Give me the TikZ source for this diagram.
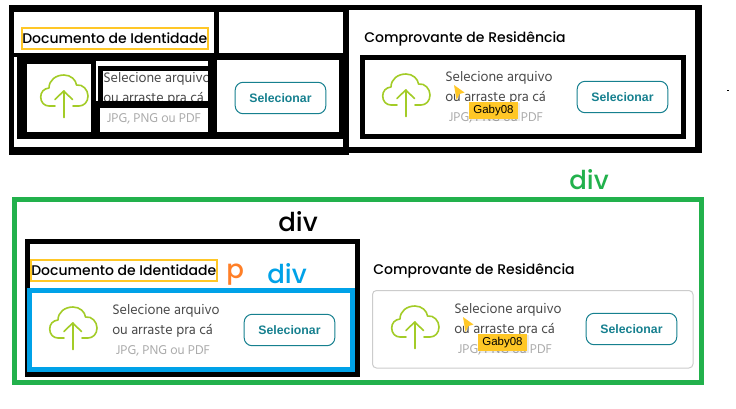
\documentclass[tikz,border=0pt]{standalone}
\usepackage{fontspec}
\setmainfont{Hind Madurai}
\newfontfamily\titlef{Poppins Medium}
\newfontfamily\labelf{Poppins Medium}
\newfontfamily\btnf{Liberation Sans}
\newfontfamily\tagf{Liberation Sans}
\definecolor{cloudgreen}{HTML}{A3CC27}
\definecolor{teal}{HTML}{16808F}
\definecolor{yel}{HTML}{FFC726}
\definecolor{grn}{HTML}{22B14C}
\definecolor{blu}{HTML}{00A2E8}
\definecolor{org}{HTML}{FF7F27}
\definecolor{bodytxt}{HTML}{4A4A4A}
\definecolor{hinttxt}{HTML}{ABABAB}
\tikzset{
  x=0.75pt,y=-0.75pt,
  titletxt/.style={inner sep=0,anchor=base west,text=black,font=\titlef\fontsize{10.5}{12}\selectfont},
  bodyline/.style={inner sep=0,anchor=base west,text=bodytxt,font=\fontsize{10.6}{12}\selectfont},
  hint/.style={inner sep=0,anchor=base west,text=hinttxt,font=\fontsize{9.8}{11}\selectfont},
  btn/.style={draw=teal,line width=0.75pt,rounded corners=6pt,minimum width=68pt,minimum height=23.6pt,inner sep=0,text=teal,font=\btnf\bfseries\fontsize{9.2}{10}\selectfont},
  cloudline/.style={draw=cloudgreen,line width=1.2pt,line cap=round,line join=round},
  tagbox/.style={fill=yel,text=black,inner sep=0,minimum width=36.8pt,minimum height=12.8pt,font=\tagf\fontsize{8.6}{10}\selectfont},
  blk/.style={fill=black,draw=none},
  bigdiv/.style={inner sep=0,anchor=base west,font=\labelf\fontsize{19.5}{22}\selectfont},
  yframe/.style={draw=yel,line width=1.5pt},
}
\newcommand{\uploadcard}[3]{%
  \begin{scope}[shift={(#1,#2)}]
    \draw[cloudline] (397,105) -- (391,105) .. controls (386,105) and (382.7,101) .. (382.7,96) .. controls (382.7,91) and (386,87.5) .. (391,87) .. controls (391,79) and (398,74) .. (406,74) .. controls (413,74) and (418,79) .. (418.5,84) .. controls (425,83) and (430,89) .. (430,95) .. controls (430,101) and (426,105) .. (421,105) -- (415,105);
    \draw[cloudline] (405.7,90) -- (405.7,116.5);
    \draw[cloudline] (397,98.5) -- (405.7,90) -- (414.5,98.5);
    \node[bodyline] (#3a) at (445,81.5) {Selecione arquivo};
    \node[bodyline] (#3b) at (445,101.5) {ou arraste pra cá};
    \node[hint] (#3c) at (448.5,121) {JPG, PNG ou PDF};
    \node[btn] (#3d) at (622.5,97) {Selecionar};
  \end{scope}}
\newcommand{\gabytag}[3]{%
  \begin{scope}[shift={(#1,#2)}]
    \fill[black,opacity=0.08] (470,103) rectangle (520,121);
    \node[tagbox] (#3) at (493.5,110.5) {Gaby08};
    \fill[yel] (454,85) -- (464.5,92.5) -- (459.5,94) -- (456.5,100) -- cycle;
  \end{scope}}
\begin{document}
\begin{tikzpicture}
\useasboundingbox (0,0) rectangle (736,408);
\fill[white] (0,0) rectangle (736,408);

% ---------- top part ----------
\uploadcard{-342}{1}{ta}
\uploadcard{0}{0}{tb}
\gabytag{0}{0}{tg}
\node[titletxt] (t1) at (22,43) {Documento de Identidade};
\node[titletxt] (t2) at (364,42) {Comprovante de Residência};
\draw[yframe] (22,28) rectangle (208,49);

% black boxes painted over the left card
\fill[blk] (9,5) rectangle (349,12);
\fill[blk] (9,5) rectangle (14,155);
\fill[blk] (9,147) rectangle (349,155);
\fill[blk] (343,10) rectangle (349,155);
\fill[blk] (214,12) rectangle (219,53);
\fill[blk] (14,53) rectangle (343,57);
\fill[blk] (17,57) rectangle (343,60);
\fill[blk] (17,57) rectangle (27,139);
\fill[blk] (17,132) rectangle (343,139);
\fill[blk] (339,53) rectangle (343,139);
\fill[blk] (27,60) rectangle (91,64);
\fill[blk] (91,60) rectangle (96,132);
\fill[blk] (96,60) rectangle (208,61);
\fill[blk] (98,66) rectangle (103,103);
\fill[blk] (98,66) rectangle (208,71);
\fill[blk] (96,101) rectangle (208,108);
\fill[blk] (91,108) rectangle (100,132);
\fill[blk] (208,60) rectangle (217,139);
% right frame
\fill[blk] (343,5) rectangle (702,10);
\fill[blk] (695,5) rectangle (702,153);
\fill[blk] (343,147) rectangle (702,153);
\draw[black,line width=3.75pt] (362.5,57.5) rectangle (683.5,136.5);
\fill[black] (727,89.5) rectangle (728.5,91);

% ---------- bottom part ----------
\draw[grn,line width=3.75pt] (14.5,199.5) rectangle (701.5,382.5);
\draw[black,line width=3.75pt] (27.5,241.5) rectangle (357.5,374);
\draw[blu,line width=3.75pt] (29.5,290.5) rectangle (352.5,369.5);
\draw[black!20,line width=0.75pt,rounded corners=3pt] (372.5,290.5) rectangle (693,368);
\uploadcard{-333}{233}{ba}
\uploadcard{9}{232}{bb}
\gabytag{9}{232}{bg}
\node[titletxt] (b1) at (31,275) {Documento de Identidade};
\node[titletxt] (b2) at (373,274) {Comprovante de Residência};
\draw[yframe] (31,260) rectangle (217,281);
\node[bigdiv,text=grn] (d1) at (569,189) {div};
\node[bigdiv,text=black] (d2) at (278,231) {div};
\node[bigdiv,text=blu] (d3) at (267,283) {div};
\node[bigdiv,text=org] (d4) at (226,278) {p};
\end{tikzpicture}
\end{document}
